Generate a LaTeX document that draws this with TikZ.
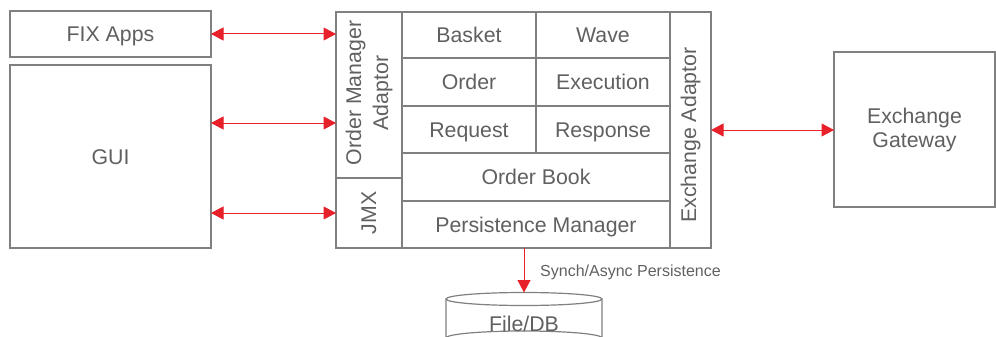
\documentclass[tikz,border=0pt]{standalone}
\usepackage{fontspec}
\setmainfont{Liberation Sans}
\usetikzlibrary{arrows.meta}
\definecolor{lgray}{HTML}{808080}
\definecolor{tgray}{HTML}{606060}
\definecolor{ared}{HTML}{E8202A}
\begin{document}
\begin{tikzpicture}[x=1pt,y=-1pt,
  box/.style={draw=lgray,line width=1.2pt,fill=white,inner sep=0pt,outer sep=0pt,
    text=tgray,align=center,font=\fontsize{21.3}{24}\selectfont},
  one/.style={text height=15.3pt,text depth=0pt},
  vtext/.style={rotate=90,text=tgray,align=center,font=\fontsize{21.3}{27}\selectfont},
  biarrow/.style={draw=ared,line width=1pt,{Triangle[length=12.5pt,width=13pt]}-{Triangle[length=12.5pt,width=13pt]}},
  onearrow/.style={draw=ared,line width=1pt,-{Triangle[length=12.5pt,width=13pt]}}]
\useasboundingbox (0,0) rectangle (996,337);
\clip (0,0) rectangle (996,337);
% left boxes
\node[box,one,minimum width=201pt,minimum height=46pt] (fix) at (110.5,34) {FIX Apps};
\node[box,one,minimum width=201pt,minimum height=183pt] (gui) at (110.5,156.5) {GUI};
% main block
\node[box,minimum width=66pt,minimum height=166pt] (oma) at (369,95) {};
\node[vtext] (omat) at (369,93) {Order Manager\\Adaptor};
\node[box,minimum width=66pt,minimum height=70pt] (jmx) at (369,213) {};
\node[vtext] (jmxt) at (369,213) {JMX};
\node[box,one,minimum width=134pt,minimum height=46pt] (basket) at (469,35) {Basket};
\node[box,one,minimum width=134pt,minimum height=46pt] (wave) at (603,35) {Wave};
\node[box,one,minimum width=134pt,minimum height=48pt] (order) at (469,82) {Order};
\node[box,one,minimum width=134pt,minimum height=48pt] (exec) at (603,82) {Execution};
\node[box,one,minimum width=134pt,minimum height=47pt] (request) at (469,129.5) {Request};
\node[box,one,minimum width=134pt,minimum height=47pt] (response) at (603,129.5) {Response};
\node[box,one,minimum width=268pt,minimum height=48pt] (book) at (536,177) {Order Book};
\node[box,one,minimum width=268pt,minimum height=47pt] (pm) at (536,224.5) {Persistence Manager};
\node[box,minimum width=41pt,minimum height=236pt] (exa) at (690.5,130) {};
\node[vtext] (exat) at (690.5,135) {Exchange Adaptor};
% gateway
\node[box,minimum width=161pt,minimum height=155pt] (gw) at (914.5,129.5) {Exchange\\Gateway};
% cylinder
\draw[lgray,line width=1.2pt,fill=white] (446,299) -- (446,338) arc[start angle=180,end angle=360,x radius=78,y radius=7] -- (602,299);
\draw[lgray,line width=1.2pt,fill=white] (524,299) ellipse[x radius=78,y radius=6.5];
\coordinate (dbtop) at (524,292.5);
\node[one,inner sep=0pt,text=tgray,font=\fontsize{21.3}{24}\selectfont] (db) at (524,324) {File/DB};
% connectors
\coordinate (g1) at (211,123);
\coordinate (g2) at (211,213);
\draw[biarrow] (fix.east) -- (fix.east -| oma.west);
\draw[biarrow] (g1) -- (g1 -| oma.west);
\draw[biarrow] (g2) -- (g2 -| jmx.west);
\draw[biarrow] (exa.east) -- (exa.east -| gw.west);
\draw[onearrow] (pm.south -| dbtop) -- (dbtop);
\node[anchor=west,inner sep=0pt,text height=11.5pt,text depth=0pt,text=tgray,font=\fontsize{16}{19}\selectfont] (lbl) at (540,271) {Synch/Async Persistence};
\end{tikzpicture}
\end{document}
